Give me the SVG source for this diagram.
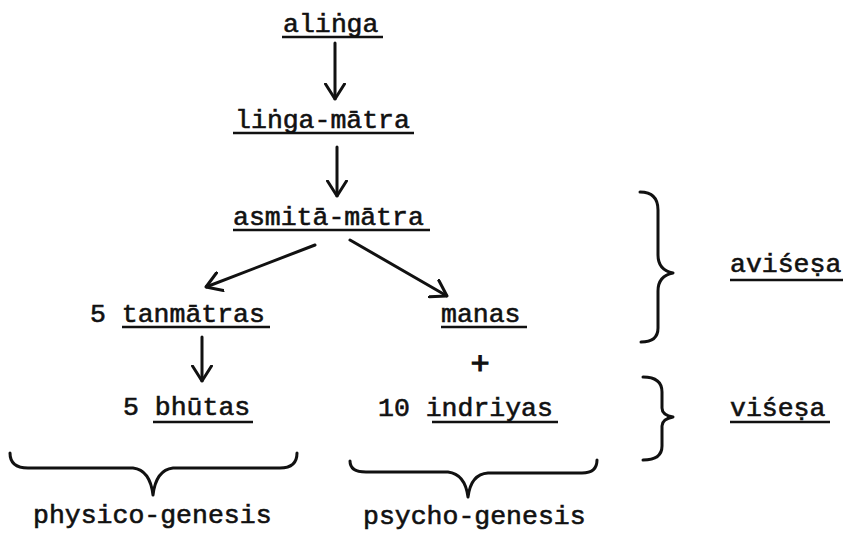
<svg xmlns="http://www.w3.org/2000/svg" width="847" height="535" viewBox="0 0 847 535">
  <style>
    .t { font-family: "Liberation Mono", "DejaVu Sans Mono", monospace; font-size: 26.5px; fill: #111; stroke: #111; stroke-width: 0.6; }
    .plus { font-size: 32px; stroke-width: 1.2; }
    .ul { stroke: #111; stroke-width: 2.6; fill: none; }
    .conn { stroke: #111; stroke-width: 3; fill: none; stroke-linecap: round; }
    .brace { stroke: #111; stroke-width: 3; fill: none; stroke-linecap: round; stroke-linejoin: round; }
  </style>
  <defs>
    <marker id="arrow" viewBox="0 0 17 22" markerWidth="17" markerHeight="22" refX="16" refY="11" orient="auto" markerUnits="userSpaceOnUse">
      <path d="M1,1.5 L16,11 L1,20.5" fill="none" stroke="#111" stroke-width="3" stroke-linecap="round" stroke-linejoin="round"/>
    </marker>
  </defs>
  <rect width="847" height="535" fill="#fff"/>

  <g id="connectors">
    <line class="conn" x1="335" y1="43" x2="335" y2="99" marker-end="url(#arrow)"/>
    <line class="conn" x1="337" y1="147" x2="337" y2="196" marker-end="url(#arrow)"/>
    <line class="conn" x1="315" y1="245" x2="206" y2="287" marker-end="url(#arrow)"/>
    <line class="conn" x1="350" y1="240" x2="447" y2="296" marker-end="url(#arrow)"/>
    <line class="conn" x1="202" y1="337" x2="202" y2="381" marker-end="url(#arrow)"/>
  </g>

  <g id="alinga">
    <text class="t" x="283" y="32">aliṅga</text>
    <line class="ul" x1="282" y1="37" x2="383" y2="37"/>
  </g>
  <g id="linga-matra">
    <text class="t" x="235" y="128">liṅga-mātra</text>
    <line class="ul" x1="233" y1="133" x2="414" y2="133"/>
  </g>
  <g id="asmita-matra">
    <text class="t" x="233" y="225">asmitā-mātra</text>
    <line class="ul" x1="233" y1="230" x2="430" y2="230"/>
  </g>
  <g id="tanmatras">
    <text class="t" x="90" y="322">5 tanmātras</text>
    <line class="ul" x1="122" y1="327" x2="270" y2="327"/>
  </g>
  <g id="manas">
    <text class="t" x="441" y="322">manas</text>
    <line class="ul" x1="441" y1="327" x2="527" y2="327"/>
  </g>
  <g id="plus">
    <text class="t plus" x="480" y="374" text-anchor="middle">+</text>
  </g>
  <g id="bhutas">
    <text class="t" x="123" y="415">5 bhūtas</text>
    <line class="ul" x1="153" y1="422" x2="253" y2="422"/>
  </g>
  <g id="indriyas">
    <text class="t" x="378" y="416">10 indriyas</text>
    <line class="ul" x1="432" y1="422" x2="558" y2="422"/>
  </g>
  <g id="avisesa">
    <path class="brace" d="M640,192 Q658,192 658,210 L658,255 Q658,270 673,273 Q658,276 658,291 L658,328 Q658,342 641,342"/>
    <text class="t" x="730" y="272">aviśeṣa</text>
    <line class="ul" x1="730" y1="280" x2="843" y2="280"/>
  </g>
  <g id="visesa">
    <path class="brace" d="M643,377 Q662,377 662,392 L662,408 Q662,415 673,417 Q662,419 662,426 L662,446 Q662,460 643,460"/>
    <text class="t" x="730" y="416">viśeṣa</text>
    <line class="ul" x1="730" y1="422" x2="830" y2="422"/>
  </g>
  <g id="physico-genesis">
    <path class="brace" d="M10,453 Q10,468 28,468 L133,468 Q150,470 153,495 Q156,470 173,468 L280,468 Q297,468 297,453"/>
    <text class="t" x="33" y="523">physico-genesis</text>
  </g>
  <g id="psycho-genesis">
    <path class="brace" d="M350,461 Q350,472 366,472 L448,472 Q465,474 468,497 Q471,474 488,473 L582,473 Q597,473 597,460"/>
    <text class="t" x="363" y="524">psycho-genesis</text>
  </g>
</svg>
